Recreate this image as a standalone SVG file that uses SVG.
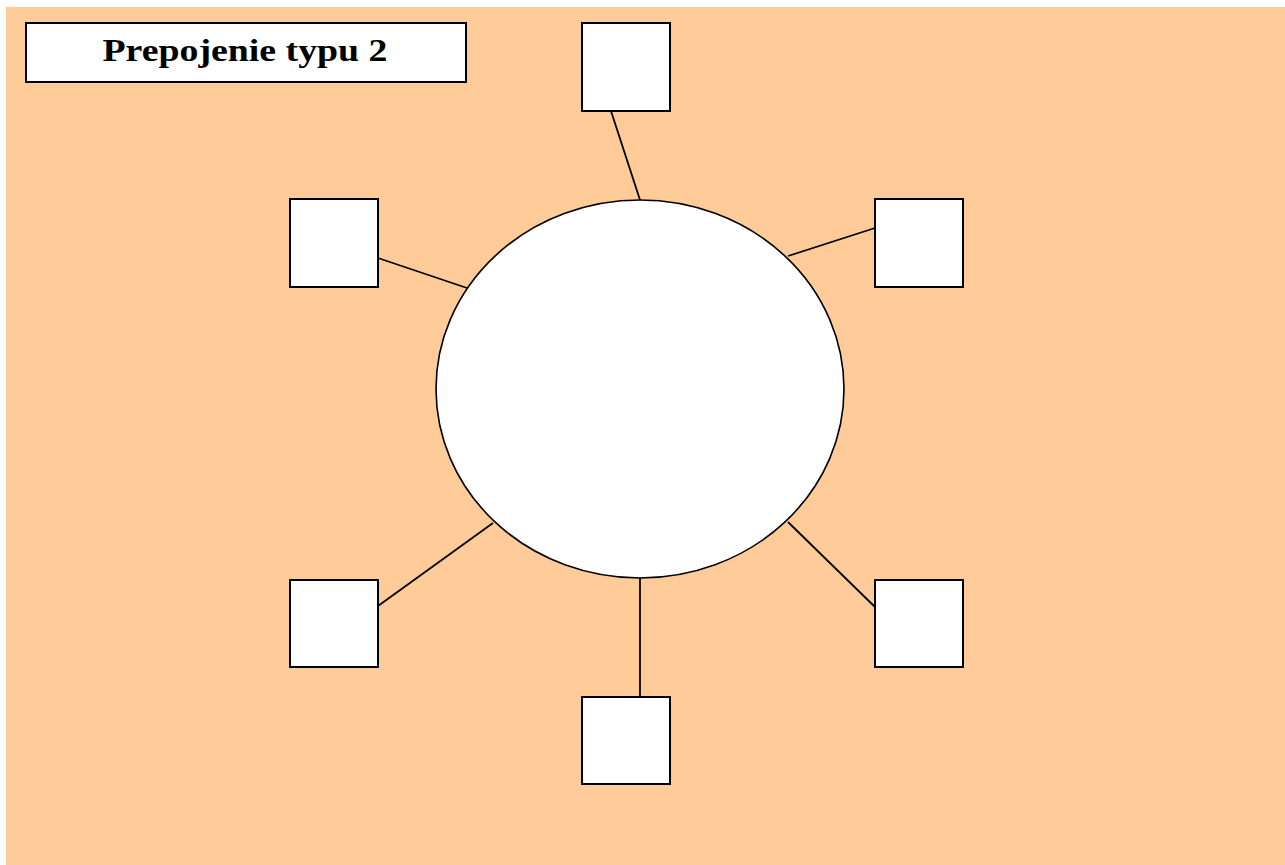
<svg xmlns="http://www.w3.org/2000/svg" width="1285" height="865" viewBox="0 0 1285 865">
<style>
.bg{fill:#FFCC99}
.box{fill:#FFFFFF;stroke:#000000;stroke-width:2}
.ring{fill:#FFFFFF;stroke:#000000;stroke-width:1.6}
.link{stroke:#000000;stroke-width:1.8;fill:none}
.title{font-family:"Liberation Serif","Times New Roman",serif;font-weight:bold;font-size:32px;fill:#000000}
</style>
<rect x="0" y="0" width="1285" height="865" fill="#FFFFFF"/>
<rect class="bg" x="6" y="7" width="1279" height="858"/>
<g id="title">
<rect class="box" x="26" y="23" width="440" height="59"/>
<text class="title" x="245" y="61" text-anchor="middle" textLength="285" lengthAdjust="spacingAndGlyphs">Prepojenie typu 2</text>
</g>
<g id="connectors">
<line class="link" x1="611" y1="111" x2="640" y2="200"/>
<line class="link" x1="378" y1="258" x2="467" y2="288"/>
<line class="link" x1="875" y1="228" x2="788" y2="256"/>
<line class="link" x1="378" y1="606" x2="493" y2="523"/>
<line class="link" x1="875" y1="607" x2="788" y2="522"/>
<line class="link" x1="640" y1="578" x2="640" y2="697"/>
</g>
<g id="hub">
<ellipse class="ring" cx="640" cy="389" rx="204" ry="189"/>
</g>
<g id="node-top"><rect class="box" x="582" y="23" width="88" height="88"/></g>
<g id="node-upper-left"><rect class="box" x="290" y="199" width="88" height="88"/></g>
<g id="node-upper-right"><rect class="box" x="875" y="199" width="88" height="88"/></g>
<g id="node-lower-left"><rect class="box" x="290" y="580" width="88" height="87"/></g>
<g id="node-lower-right"><rect class="box" x="875" y="580" width="88" height="87"/></g>
<g id="node-bottom"><rect class="box" x="582" y="697" width="88" height="87"/></g>
</svg>
